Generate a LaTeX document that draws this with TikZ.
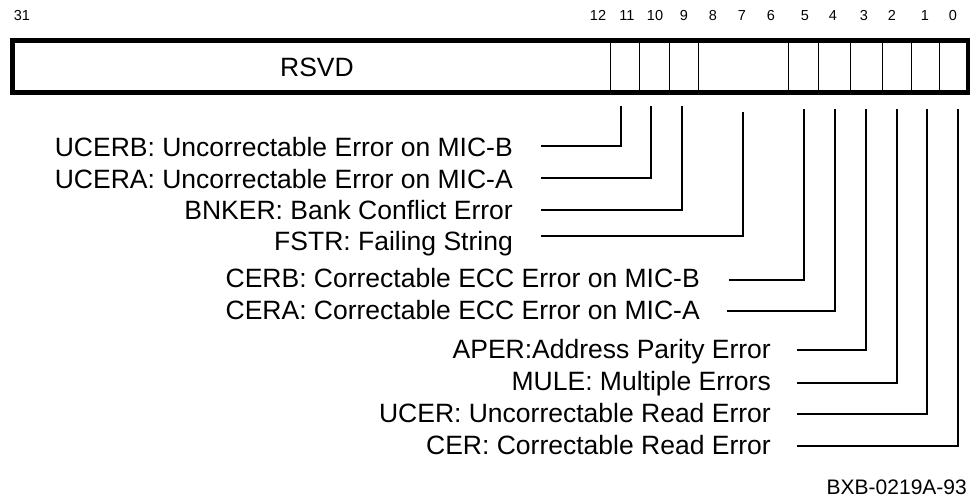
\documentclass[tikz,border=0pt]{standalone}
\usepackage{fontspec}
\setmainfont{Liberation Sans}
\begin{document}
\begin{tikzpicture}[x=1pt,y=-1pt,
  lbl/.style={anchor=base east,inner sep=0pt,font=\fontsize{26.5}{30}\selectfont},
  bitnum/.style={anchor=base,inner sep=0pt,font=\fontsize{14.5}{17}\selectfont},
  regbox/.style={draw,line width=4.5pt},
  divider/.style={draw,line width=1pt},
  conn/.style={draw,line width=1.3pt}]
\useasboundingbox (0,0) rectangle (970,502);
% register box
\node[regbox,minimum width=956pt,minimum height=52pt,inner sep=0pt,anchor=north west] (reg) at (10,38.3) {};
\node[inner sep=0pt,anchor=base,font=\fontsize{26.5}{30}\selectfont] (rsvd) at (317,77) {RSVD};
\foreach \x in {610,639,669.3,698.3,788.3,818.7,850,882.3,911.7,939.3}
  \draw[divider] (\x,38.3) -- (\x,90);
% bit numbers
\foreach \x/\n in {22/31,598/12,627/11,655/10,684/9,713/8,742/7,771/6,805/5,833/4,864/3,892/2,925/1,953/0}
  \node[bitnum] (b\n) at (\x,20.3) {\n};
% labels
\node[lbl] (ucerb) at (513,157) {UCERB: Uncorrectable Error on MIC-B};
\node[lbl] (ucera) at (513,189) {UCERA: Uncorrectable Error on MIC-A};
\node[lbl] (bnker) at (513,220) {BNKER: Bank Conflict Error};
\node[lbl] (fstr) at (513,251) {FSTR: Failing String};
\node[lbl] (cerb) at (700,288) {CERB: Correctable ECC Error on MIC-B};
\node[lbl] (cera) at (700,320) {CERA: Correctable ECC Error on MIC-A};
\node[lbl] (aper) at (771,359) {APER:Address Parity Error};
\node[lbl] (mule) at (771,391) {MULE: Multiple Errors};
\node[lbl] (ucer) at (771,423) {UCER: Uncorrectable Read Error};
\node[lbl] (cer) at (771,455) {CER: Correctable Read Error};
\node[inner sep=0pt,anchor=base east,font=\fontsize{21}{25}\selectfont] (fig) at (967,495) {BXB-0219A-93};
% connector endpoints
\coordinate (s11) at (541,146);  \coordinate (t11) at (621,106);
\coordinate (s10) at (541,178);  \coordinate (t10) at (651,106);
\coordinate (s9)  at (541,210);  \coordinate (t9)  at (682,106);
\coordinate (s7)  at (541,236);  \coordinate (t7)  at (743,112);
\coordinate (s5)  at (729,280);  \coordinate (t5)  at (804,109);
\coordinate (s4)  at (727,311);  \coordinate (t4)  at (835,109);
\coordinate (s3)  at (797,350);  \coordinate (t3)  at (866,109);
\coordinate (s2)  at (797,383);  \coordinate (t2)  at (897,109);
\coordinate (s1)  at (797,414);  \coordinate (t1)  at (927,109);
\coordinate (s0)  at (797,446);  \coordinate (t0)  at (958,109);
\foreach \k in {11,10,9,7,5,4,3,2,1,0}
  \draw[conn] (s\k) -| (t\k);
\end{tikzpicture}
\end{document}
